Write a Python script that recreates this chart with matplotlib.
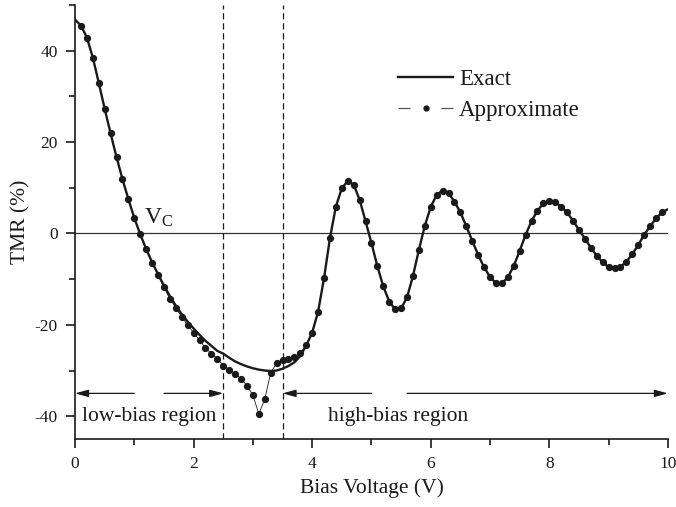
import matplotlib
matplotlib.use("Agg")
import matplotlib.pyplot as plt
from matplotlib.lines import Line2D
from matplotlib.ticker import MultipleLocator
import numpy as np

plt.rcParams["font.family"] = ["Liberation Serif", "DejaVu Serif"]
plt.rcParams["mathtext.default"] = "regular"
plt.rcParams["axes.unicode_minus"] = False

# exact TMR (solid), sampled every 0.1 V from 0 to 10 V
exact_v = np.round(np.arange(0, 10.01, 0.1), 1)
exact_tmr = [
    46.8, 45.5, 42.9, 38.5, 33.0, 27.3, 21.9, 16.7, 11.9, 7.5,
    3.4, -0.2, -3.4, -6.3, -8.9, -11.4, -13.7, -15.8, -17.7, -19.3,
    -20.8, -22.2, -23.5, -24.6, -25.7, -26.3, -27.2, -28.0, -28.6, -29.1,
    -29.5, -29.8, -30.0, -30.1, -30.0, -29.6, -29.0, -28.2, -26.8, -24.5,
    -21.7, -17.1, -9.8, -1.0, 5.9, 9.9, 11.5, 10.7, 7.4, 2.7,
    -2.1, -7.2, -11.6, -14.9, -16.6, -16.4, -14.0, -9.3, -3.6, 1.7,
    5.8, 8.5, 9.4, 8.8, 7.0, 4.6, 1.6, -1.6, -4.7, -7.4,
    -9.5, -10.9, -10.9, -9.6, -7.1, -3.8, -0.3, 2.7, 5.0, 6.6,
    7.2, 6.8, 5.9, 4.6, 2.8, 0.8, -1.1, -3.1, -4.9, -6.3,
    -7.4, -7.6, -7.3, -6.2, -4.5, -2.5, -0.3, 1.6, 3.3, 4.6,
    5.3,
]

# approximate TMR (dots), 0.1 .. 9.9 V
approx_v = np.round(np.arange(0.1, 9.91, 0.1), 1)
approx_tmr = [
    45.5, 42.9, 38.5, 33.0, 27.3, 21.9, 16.7, 11.9, 7.5,
    3.4, -0.2, -3.4, -6.4, -9.1, -11.8, -14.3, -16.3, -18.2, -20.1,
    -21.7, -23.4, -25.0, -26.3, -27.4, -28.9, -29.8, -30.7, -31.8, -33.3,
    -35.4, -39.5, -36.3, -30.5, -28.4, -27.8, -27.5, -27.0, -26.2, -24.5,
    -21.7, -17.1, -9.8, -1.0, 5.9, 9.9, 11.5, 10.7, 7.4, 2.7,
    -2.1, -7.2, -11.6, -14.9, -16.6, -16.4, -14.0, -9.3, -3.6, 1.7,
    5.8, 8.5, 9.4, 8.8, 7.0, 4.6, 1.6, -1.6, -4.7, -7.4,
    -9.5, -10.9, -10.9, -9.6, -7.1, -3.8, -0.3, 2.7, 5.0, 6.6,
    7.2, 6.8, 5.9, 4.6, 2.8, 0.8, -1.1, -3.1, -4.9, -6.3,
    -7.4, -7.6, -7.3, -6.2, -4.5, -2.5, -0.3, 1.6, 3.3, 4.6,
]

region_bounds = [2.5, 3.5]
arrow_y = -35
ink = "#1a1a1a"

fig = plt.figure(figsize=(6.76, 5.07), dpi=100)
ax = fig.add_axes([0.111, 0.134, 0.877, 0.856])

ax.axhline(0, color="#333333", lw=0.9, zorder=1)
for xb in region_bounds:
    ax.axvline(xb, color=ink, lw=0.9, ls=(0, (5, 3)), zorder=1)

ax.plot(exact_v, exact_tmr, color=ink, lw=1.7, zorder=3)
ax.plot(approx_v, approx_tmr, color=ink, lw=0.6, marker="o", ms=4.2,
        mec=ink, mfc=ink, zorder=4)

# region arrows
arrow_kw = dict(arrowstyle="-|>,head_length=0.8,head_width=0.22",
                color=ink, lw=0.9, shrinkA=0, shrinkB=0)
for start, end in [(1.0, 0.0), (1.5, 2.5), (5.0, 3.5), (5.6, 10.0)]:
    ax.annotate("", xy=(end, arrow_y), xytext=(start, arrow_y),
                arrowprops=arrow_kw)

ax.text(0.12, -40, "low-bias region", fontsize=15.5, color=ink,
        va="center", ha="left")
ax.text(4.26, -40, "high-bias region", fontsize=15.5, color=ink,
        va="center", ha="left")
ax.text(1.17, 1.0, r"$V_C$", fontsize=17, color=ink, va="bottom", ha="left")

handles = [
    Line2D([], [], color=ink, lw=1.7),
    Line2D([], [], color="#555555", lw=0.9, ls=(0, (9.6, 24.8)), marker="o",
           ms=3.5, mfc=ink, mec=ink),
]
ax.legend(handles, ["Exact", "Approximate"], loc="upper left",
          bbox_to_anchor=(0.545, 0.853), frameon=False, fontsize=16.5,
          handlelength=2.4, handletextpad=0.25, labelspacing=0.45,
          borderpad=0, borderaxespad=0, numpoints=1, labelcolor=ink)

ax.set_xlim(0, 10)
ax.set_ylim(-45, 50)
ax.set_xticks(range(0, 11, 2))
ax.set_yticks(range(-40, 41, 20))
ax.xaxis.set_minor_locator(MultipleLocator(1))
ax.yaxis.set_minor_locator(MultipleLocator(10))

for side in ["top", "right"]:
    ax.spines[side].set_visible(False)
for side in ["left", "bottom"]:
    ax.spines[side].set_linewidth(1.2)
    ax.spines[side].set_color(ink)

ax.tick_params(which="major", direction="out", length=6.5, width=1.2,
               labelsize=12.5, colors=ink, pad=6)
ax.tick_params(which="minor", direction="out", length=4.3, width=1.2,
               colors=ink)

ax.set_xlabel("Bias Voltage (V)", fontsize=15.5, color=ink, labelpad=4)
ax.set_ylabel("TMR (%)", fontsize=15.5, color=ink, labelpad=3)

fig.savefig("out.png", dpi=100)
